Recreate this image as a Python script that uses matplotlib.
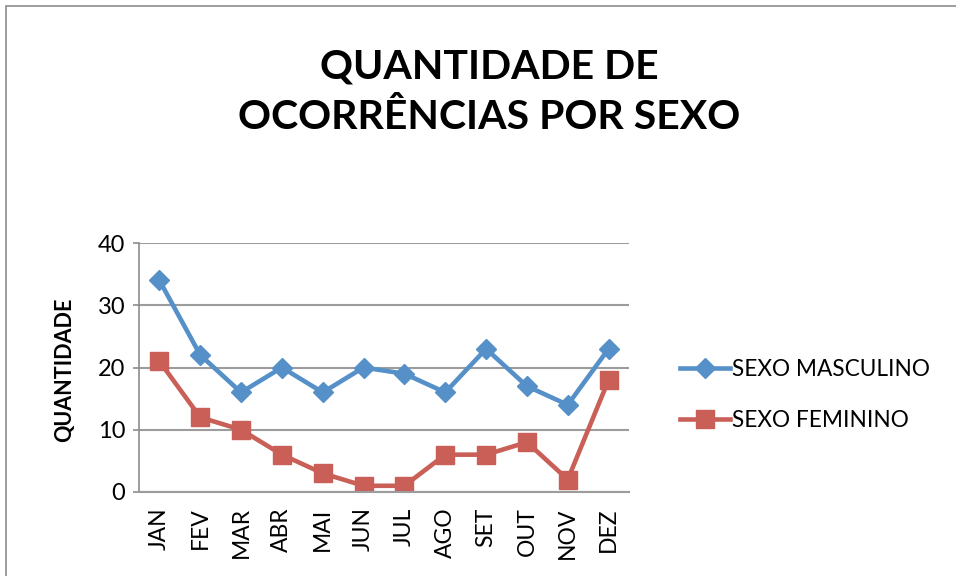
import numpy as np
import matplotlib
matplotlib.use("Agg")
import matplotlib.pyplot as plt
from matplotlib.patches import Rectangle

# dados do grafico
meses = ["JAN", "FEV", "MAR", "ABR", "MAI", "JUN", "JUL", "AGO", "SET", "OUT", "NOV", "DEZ"]
masculino = [34, 22, 16, 20, 16, 20, 19, 16, 23, 17, 14, 23]
feminino = [21, 12, 10, 6, 3, 1, 1, 6, 6, 8, 2, 18]
y_ticks = [0, 10, 20, 30, 40]

plt.rcParams['font.family'] = ['Lato', 'DejaVu Sans']

W, H = 956, 576
fig = plt.figure(figsize=(W / 100, H / 100), dpi=100)

# moldura do grafico
fig.patches.append(Rectangle((5.5 / W, -0.1), 1.2, 1 - 5.5 / H + 0.1,
                             transform=fig.transFigure, fill=False,
                             edgecolor='#8c8c8c', linewidth=1.2))

ax = fig.add_axes([139 / W, 1 - 492 / H, (629 - 139) / W, (492 - 243) / H])
x = np.arange(len(meses))

ax.plot(x, masculino, color='#5690C8', linewidth=3.3, marker='D', markersize=10.5,
        label='SEXO MASCULINO')
ax.plot(x, feminino, color='#CA5F58', linewidth=3.3, marker='s', markersize=13,
        label='SEXO FEMININO')

ax.set_xlim(-0.5, len(meses) - 0.5)
ax.set_ylim(0, 40)
ax.set_yticks(y_ticks)
ax.set_xticks(x)
ax.set_xticklabels(meses, rotation=90, fontsize=16.5)
ax.tick_params(axis='y', labelsize=17, length=4, color='#8c8c8c', width=1.2, pad=6)
ax.tick_params(axis='x', length=0, pad=11)
ax.grid(axis='y', color='#9c9c9c', linewidth=1.5)
ax.set_axisbelow(True)
for s in ['top', 'right']:
    ax.spines[s].set_visible(False)
ax.spines['left'].set_color('#8c8c8c')
ax.spines['left'].set_linewidth(1.2)
ax.spines['bottom'].set_color('#9c9c9c')
ax.spines['bottom'].set_linewidth(1.5)

fig.text(65 / W, 1 - 370 / H, 'QUANTIDADE', rotation=90, ha='center', va='center',
         fontsize=15.5, fontweight='bold')

fig.text(489 / W, 1 - 92 / H, 'QUANTIDADE DE\nOCORRÊNCIAS POR SEXO', ha='center',
         va='center', fontsize=29.5, fontweight='bold', linespacing=1.45)

ax.legend(loc='center left', bbox_to_anchor=(660 / W, 1 - 395 / H),
          bbox_transform=fig.transFigure, frameon=False, fontsize=16.3,
          handlelength=2.2, handletextpad=0.1, labelspacing=1.35)

fig.savefig('out.png', dpi=100)
